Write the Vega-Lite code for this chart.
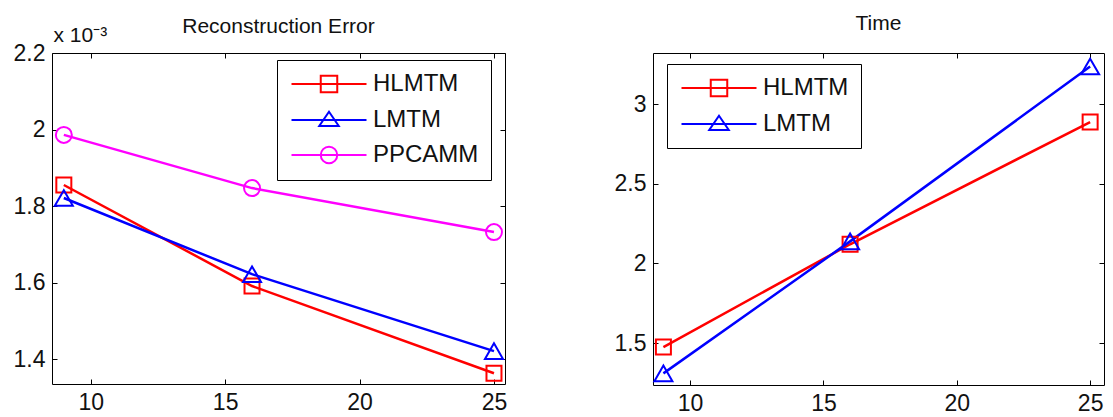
{
  "$schema": "https://vega.github.io/schema/vega-lite/v6.json",
  "background": "white",
  "padding": {"left": 12, "top": 12, "right": 0, "bottom": 0},
  "spacing": 104,
  "resolve": {"scale": {"color": "independent", "shape": "independent", "stroke": "independent"}, "legend": {"color": "independent", "shape": "independent", "stroke": "independent"}},
  "config": {
    "font": "Liberation Sans",
    "view": {"stroke": "black", "strokeWidth": 1},
    "axis": {"domain": false, "grid": false, "tickColor": "black", "tickSize": -5, "labelPadding": 12, "labelFontSize": 23, "labelColor": "#111111", "labelFont": "Liberation Sans", "titleFont": "Liberation Sans", "titleColor": "#111111"},
    "title": {"fontSize": 21, "fontWeight": "normal", "font": "Liberation Sans", "color": "#111111", "frame": "group", "offset": 19, "baseline": "alphabetic"},
    "legend": {"strokeColor": "black", "fillColor": "white", "padding": 12, "rowPadding": 10, "labelFontSize": 24, "labelColor": "#111111", "labelFont": "Liberation Sans", "symbolSize": 225, "symbolStrokeWidth": 2, "symbolOffset": 28, "labelOffset": 32, "symbolOpacity": 1}
  },
  "datasets": {
    "err": [
      {"method": "HLMTM", "dim": 9, "error": 0.001855},
      {"method": "HLMTM", "dim": 16, "error": 0.001591},
      {"method": "HLMTM", "dim": 25, "error": 0.001363},
      {"method": "LMTM", "dim": 9, "error": 0.001821},
      {"method": "LMTM", "dim": 16, "error": 0.001622},
      {"method": "LMTM", "dim": 25, "error": 0.001421},
      {"method": "PPCAMM", "dim": 9, "error": 0.001986},
      {"method": "PPCAMM", "dim": 16, "error": 0.001847},
      {"method": "PPCAMM", "dim": 25, "error": 0.001732}
    ],
    "time": [
      {"method": "HLMTM", "dim": 9, "time": 1.475},
      {"method": "HLMTM", "dim": 16, "time": 2.12},
      {"method": "HLMTM", "dim": 25, "time": 2.887},
      {"method": "LMTM", "dim": 9, "time": 1.31},
      {"method": "LMTM", "dim": 16, "time": 2.138},
      {"method": "LMTM", "dim": 25, "time": 3.235}
    ]
  },
  "hconcat": [
    {
      "title": {"text": "Reconstruction Error", "offset": -13},
      "width": 453,
      "height": 331,
      "data": {"name": "err"},
      "layer": [
        {
          "mark": {"type": "line", "strokeWidth": 2.5},
          "encoding": {
            "x": {"field": "dim", "type": "quantitative", "scale": {"domain": [8.56, 25.41], "nice": false, "zero": false}, "axis": {"values": [10, 15, 20, 25], "title": null}},
            "y": {"field": "error", "type": "quantitative", "scale": {"domain": [0.001335, 0.0022], "nice": false, "zero": false}, "axis": {"values": [0.0014, 0.0016, 0.0018, 0.002, 0.0022], "labelExpr": "format(datum.value*1000, '.1~f')", "title": "x 10⁻³", "titleAngle": 0, "titleX": 1, "titleY": -12, "titleAlign": "left", "titleBaseline": "alphabetic", "titleFontSize": 21, "titleFontWeight": "normal"}},
            "stroke": {"field": "method", "type": "nominal", "scale": {"range": ["#ff0000", "#0000ff", "#ff00ff"]}, "legend": null}
          }
        },
        {
          "transform": [{"filter": {"field": "method", "equal": "HLMTM"}}],
          "mark": {"type": "point", "shape": "square", "filled": false, "size": 225, "strokeWidth": 2, "opacity": 1},
          "encoding": {"x": {"field": "dim", "type": "quantitative", "axis": null}, "y": {"field": "error", "type": "quantitative", "axis": null}, "stroke": {"field": "method", "type": "nominal", "legend": null}}
        },
        {
          "transform": [{"filter": {"field": "method", "equal": "LMTM"}}],
          "mark": {"type": "point", "shape": "triangle-up", "filled": false, "size": 324, "strokeWidth": 2, "opacity": 1},
          "encoding": {"x": {"field": "dim", "type": "quantitative", "axis": null}, "y": {"field": "error", "type": "quantitative", "axis": null}, "stroke": {"field": "method", "type": "nominal", "legend": null}}
        },
        {
          "transform": [{"filter": {"field": "method", "equal": "PPCAMM"}}],
          "mark": {"type": "point", "shape": "circle", "filled": false, "size": 256, "strokeWidth": 2, "opacity": 1},
          "encoding": {"x": {"field": "dim", "type": "quantitative", "axis": null}, "y": {"field": "error", "type": "quantitative", "axis": null}, "stroke": {"field": "method", "type": "nominal", "legend": null}}
        },
        {
          "mark": {"type": "point", "opacity": 0},
          "encoding": {
            "x": {"field": "dim", "type": "quantitative", "axis": {"orient": "top", "values": [10, 15, 20, 25], "labels": false, "title": null}},
            "y": {"field": "error", "type": "quantitative", "axis": {"orient": "right", "values": [0.0014, 0.0016, 0.0018, 0.002, 0.0022], "labels": false, "title": null}}
          }
        },
        {
          "mark": {"type": "point", "filled": false, "strokeWidth": 2, "opacity": 0},
          "encoding": {
            "x": {"field": "dim", "type": "quantitative", "axis": null},
            "y": {"field": "error", "type": "quantitative", "axis": null},
            "color": {"field": "method", "type": "nominal", "scale": {"domain": ["HLMTM", "LMTM", "PPCAMM"], "range": ["#ff0000", "#0000ff", "#ff00ff"]}, "legend": {"orient": "none", "legendX": 225, "legendY": 7, "title": null}},
            "shape": {"field": "method", "type": "nominal", "scale": {"domain": ["HLMTM", "LMTM", "PPCAMM"], "range": ["M-5,0H5M-1.1,-1.1H1.1V1.1H-1.1Z", "M-5,0H5M0,-1.1L1.3,0.8H-1.3Z", "M-5,0H5M1.1,0A1.1,1.1 0 1,1 -1.1,0A1.1,1.1 0 1,1 1.1,0Z"]}, "legend": {"orient": "none", "legendX": 225, "legendY": 7, "title": null}}
          }
        }
      ],
      "resolve": {"axis": {"x": "independent", "y": "independent"}}
    },
    {
      "title": {"text": "Time"},
      "width": 451,
      "height": 332,
      "data": {"name": "time"},
      "layer": [
        {
          "mark": {"type": "line", "strokeWidth": 2.5},
          "encoding": {
            "x": {"field": "dim", "type": "quantitative", "scale": {"domain": [8.61, 25.52], "nice": false, "zero": false}, "axis": {"values": [10, 15, 20, 25], "title": null}},
            "y": {"field": "time", "type": "quantitative", "scale": {"domain": [1.237, 3.32], "nice": false, "zero": false}, "axis": {"values": [1.5, 2, 2.5, 3], "format": "~g", "title": null}},
            "stroke": {"field": "method", "type": "nominal", "scale": {"range": ["#ff0000", "#0000ff"]}, "legend": null}
          }
        },
        {
          "transform": [{"filter": {"field": "method", "equal": "HLMTM"}}],
          "mark": {"type": "point", "shape": "square", "filled": false, "size": 225, "strokeWidth": 2, "opacity": 1},
          "encoding": {"x": {"field": "dim", "type": "quantitative", "axis": null}, "y": {"field": "time", "type": "quantitative", "axis": null}, "stroke": {"field": "method", "type": "nominal", "legend": null}}
        },
        {
          "transform": [{"filter": {"field": "method", "equal": "LMTM"}}],
          "mark": {"type": "point", "shape": "triangle-up", "filled": false, "size": 324, "strokeWidth": 2, "opacity": 1},
          "encoding": {"x": {"field": "dim", "type": "quantitative", "axis": null}, "y": {"field": "time", "type": "quantitative", "axis": null}, "stroke": {"field": "method", "type": "nominal", "legend": null}}
        },
        {
          "mark": {"type": "point", "opacity": 0},
          "encoding": {
            "x": {"field": "dim", "type": "quantitative", "axis": {"orient": "top", "values": [10, 15, 20, 25], "labels": false, "title": null}},
            "y": {"field": "time", "type": "quantitative", "axis": {"orient": "right", "values": [1.5, 2, 2.5, 3], "labels": false, "title": null}}
          }
        },
        {
          "mark": {"type": "point", "filled": false, "strokeWidth": 2, "opacity": 0},
          "encoding": {
            "x": {"field": "dim", "type": "quantitative", "axis": null},
            "y": {"field": "time", "type": "quantitative", "axis": null},
            "color": {"field": "method", "type": "nominal", "scale": {"domain": ["HLMTM", "LMTM"], "range": ["#ff0000", "#0000ff"]}, "legend": {"orient": "none", "legendX": 14, "legendY": 11, "title": null}},
            "shape": {"field": "method", "type": "nominal", "scale": {"domain": ["HLMTM", "LMTM"], "range": ["M-5,0H5M-1.1,-1.1H1.1V1.1H-1.1Z", "M-5,0H5M0,-1.1L1.3,0.8H-1.3Z"]}, "legend": {"orient": "none", "legendX": 14, "legendY": 11, "title": null}}
          }
        }
      ],
      "resolve": {"axis": {"x": "independent", "y": "independent"}}
    }
  ]
}
